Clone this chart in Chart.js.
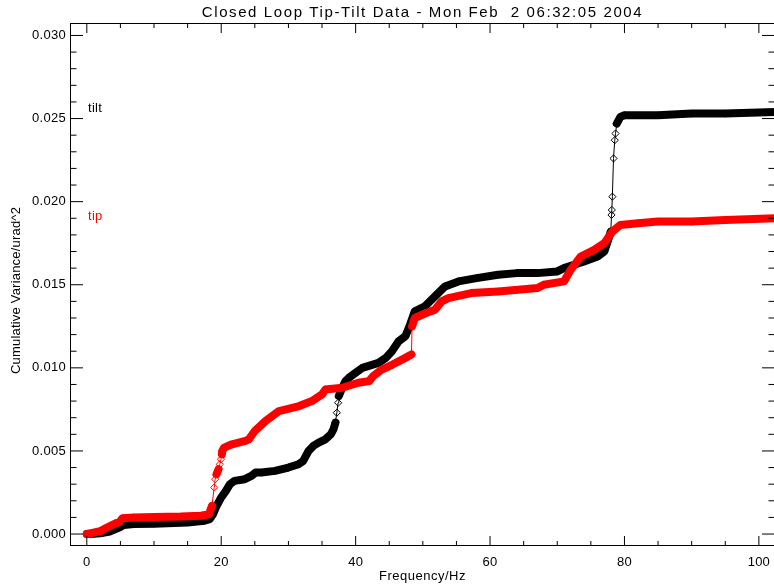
<!DOCTYPE html>
<html><head><meta charset="utf-8">
<script src="https://cdn.jsdelivr.net/npm/chart.js@4/dist/chart.umd.min.js"></script>
<style>html,body{margin:0;padding:0;overflow:hidden;background:#fff}canvas{display:block}</style>
</head><body>
<canvas id="c" width="780" height="585"></canvas>
<script>
// ---- data ----
const tiltFreq = [0,0.5,1,2,3.4,4.9,5.5,7,10,13,15,17.5,18.3,18.8,19.2,19.6,20.0,20.7,21.3,22,23.5,24.5,25.1,26,28,30,31.5,32.2,32.6,33.0,33.7,34.5,35.5,36.3,36.7,37.0,37.2,37.4,37.5,38.0,38.5,39.0,40,41,43.4,44.5,45.4,46.4,47.4,48.1,48.8,50.3,51.8,53.3,55.3,58,61.2,64,67,70,71,72.5,74,76,77,77.5,77.97,78.07,78.12,78.2,78.37,78.56,78.67,78.86,79.4,80,85,90,95,102.4];
const tiltVar  = [0,0.00001,0.00002,0.00005,0.00015,0.0004,0.00055,0.0006,0.00062,0.00066,0.0007,0.0008,0.0009,0.0012,0.0016,0.0019,0.0022,0.0026,0.0030,0.0032,0.0033,0.0035,0.0037,0.0037,0.0038,0.0040,0.0042,0.0044,0.0047,0.0050,0.0053,0.0055,0.0057,0.0060,0.0063,0.0067,0.0073,0.0079,0.0083,0.0088,0.0092,0.0094,0.0097,0.0100,0.0103,0.0106,0.0110,0.0116,0.0119,0.0126,0.0134,0.0137,0.0143,0.0149,0.0152,0.0154,0.0156,0.0157,0.0157,0.0158,0.0160,0.0162,0.0164,0.0167,0.0170,0.0176,0.0182,0.0192,0.0195,0.0203,0.0226,0.0237,0.0241,0.0247,0.0251,0.0252,0.0252,0.0253,0.0253,0.0254];
const tipFreq  = [0,0.5,1,2,2.5,3.3,4.3,4.8,5.3,7,10,14,17,18.2,18.62,18.96,19.1,19.3,19.6,19.8,19.96,20.1,20.15,20.44,21.6,23.6,24.1,25.0,26.6,28.6,31.6,33.5,35.0,35.5,38.0,40.4,42.0,42.6,43.9,45.5,47.4,48.3,48.4,48.8,50.5,51.8,52.8,53.8,57.2,61.2,67.1,68.0,71.0,72.0,73.5,75.5,77.0,78.2,79.4,82,85,90,95,102.4];
const tipVar   = [0,0.00003,0.00008,0.00018,0.00028,0.00045,0.00065,0.0007,0.00095,0.0010,0.00102,0.00105,0.0011,0.0012,0.0017,0.0028,0.0033,0.0036,0.0039,0.0042,0.0045,0.0048,0.0050,0.0052,0.0054,0.0056,0.0057,0.0062,0.0068,0.0074,0.0077,0.0080,0.0084,0.0087,0.0088,0.0091,0.0092,0.0095,0.0099,0.0102,0.0106,0.0108,0.0125,0.0130,0.0133,0.0135,0.0140,0.0142,0.0145,0.0146,0.0148,0.0150,0.0152,0.0159,0.0167,0.0171,0.0175,0.0182,0.0186,0.0187,0.0188,0.0188,0.0189,0.0190];
const seriesNames = ['tilt', 'tip'];
const xTickValues = [0, 20, 40, 60, 80, 100];
const yTickValues = [0.000, 0.005, 0.010, 0.015, 0.020, 0.025, 0.030];
const chartTitle = 'Closed Loop Tip-Tilt Data - Mon Feb  2 06:32:05 2004';
const xTitle = 'Frequency/Hz';
const yTitle = 'Cumulative Variance/urad^2';

const FONT = '"Liberation Sans", Arial, Helvetica, sans-serif';

function toPts(xs, ys) { return xs.map((x, i) => ({x: x, y: ys[i]})); }
function segWidth(ctx) {
  const dx = Math.abs(ctx.p1.x - ctx.p0.x), dy = Math.abs(ctx.p1.y - ctx.p0.y);
  return (dy > 3.5 * dx && dy > 4) ? 1 : 8;
}
function ds(label, xs, ys, color) {
  return {
    label: label, data: toPts(xs, ys),
    borderColor: color, backgroundColor: color,
    borderWidth: 8, borderCapStyle: 'round', borderJoinStyle: 'round',
    segment: { borderWidth: segWidth },
    pointStyle: 'rectRot', pointRadius: 3.6, pointBorderWidth: 1,
    pointBorderColor: color, pointBackgroundColor: 'rgba(0,0,0,0)',
    tension: 0, fill: false
  };
}

function wrap(obj, name, ls, dy) {
  if (!obj || !obj[name]) return;
  const orig = obj[name];
  obj[name] = function (...args) {
    const c = this.ctx;
    const old = c.letterSpacing;
    c.save();
    if (dy) c.translate(0, dy);
    c.letterSpacing = ls;
    try { return orig.apply(this, args); }
    finally { c.restore(); c.letterSpacing = old; }
  };
}

const frame = {
  id: 'frame',
  beforeDraw(chart) {
    if (chart.$lsPatched) return;
    chart.$lsPatched = true;
    wrap(chart.titleBlock, 'draw', '1.6px', 0);
    wrap(chart.scales.x, 'drawTitle', '0.5px', 0);
    wrap(chart.scales.y, 'drawTitle', '0.2px', 6);
    wrap(chart.scales.x, 'drawLabels', '0.2px', 0);
    wrap(chart.scales.y, 'drawLabels', '0.3px', 0);
  },
  afterDraw(chart) {
    const {ctx, chartArea: a, scales: {x, y}} = chart;
    ctx.save();
    ctx.strokeStyle = '#000'; ctx.lineWidth = 1;
    ctx.strokeRect(a.left + 0.5, a.top + 0.5, a.right - a.left - 1, a.bottom - a.top - 1);
    ctx.beginPath();
    for (let v = 0; v <= 100; v += 5) {
      const px = x.getPixelForValue(v);
      const len = (v % 20 === 0) ? 10 : 5;
      ctx.moveTo(px, a.bottom); ctx.lineTo(px, a.bottom - len);
      ctx.moveTo(px, a.top); ctx.lineTo(px, a.top + len);
    }
    for (let k = 0; k <= 30; k++) {
      const py = y.getPixelForValue(k / 1000);
      const len = (k % 5 === 0) ? 13 : 6.5;
      ctx.moveTo(a.left, py); ctx.lineTo(a.left + len, py);
      ctx.moveTo(a.right, py); ctx.lineTo(a.right - len, py);
    }
    ctx.stroke();
    // series labels
    ctx.font = '13px ' + FONT;
    ctx.letterSpacing = '0.3px';
    ctx.textAlign = 'left'; ctx.textBaseline = 'alphabetic';
    ctx.fillStyle = '#000';
    ctx.fillText(seriesNames[0], a.left + 18, 112);
    ctx.fillStyle = '#ff0000';
    ctx.fillText(seriesNames[1], a.left + 18, 220);
    ctx.restore();
  }
};

new Chart(document.getElementById('c'), {
  type: 'line',
  data: { datasets: [ ds(seriesNames[1], tipFreq, tipVar, '#ff0000'), ds(seriesNames[0], tiltFreq, tiltVar, '#000000') ] },
  options: {
    responsive: false, animation: false, devicePixelRatio: 1,
    layout: { padding: { left: 0, right: 2, top: 0, bottom: 0 } },
    plugins: {
      legend: { display: false }, tooltip: { enabled: false },
      title: { display: true, text: chartTitle, fullSize: false, color: '#000',
               font: { family: FONT, size: 15, weight: 'normal', lineHeight: 1 },
               padding: { top: 5, bottom: 3 } }
    },
    scales: {
      x: {
        type: 'linear', min: -2.5, max: 102.4,
        afterBuildTicks: s => { s.ticks = xTickValues.map(v => ({value: v})); },
        afterFit: s => { s.height = 39; },
        grid: { display: false, drawTicks: false },
        border: { display: false },
        ticks: { color: '#000', padding: 9, maxRotation: 0, autoSkip: false,
                 font: { family: FONT, size: 13 }, callback: v => String(v) },
        title: { display: true, text: xTitle, color: '#000',
                 font: { family: FONT, size: 13, lineHeight: 1.2 }, padding: { top: 0, bottom: 1 } }
      },
      y: {
        type: 'linear', min: -0.00072, max: 0.03075,
        afterBuildTicks: s => { s.ticks = yTickValues.map(v => ({value: v})); },
        afterFit: s => { s.width = 70; },
        grid: { display: false, drawTicks: false },
        border: { display: false },
        ticks: { color: '#000', padding: 4, autoSkip: false,
                 font: { family: FONT, size: 13 }, callback: v => Number(v).toFixed(3) },
        title: { display: true, text: yTitle, color: '#000',
                 font: { family: FONT, size: 13, lineHeight: 1.2 }, padding: { top: 9, bottom: 0 } }
      }
    }
  },
  plugins: [frame]
});
</script>
</body></html>
